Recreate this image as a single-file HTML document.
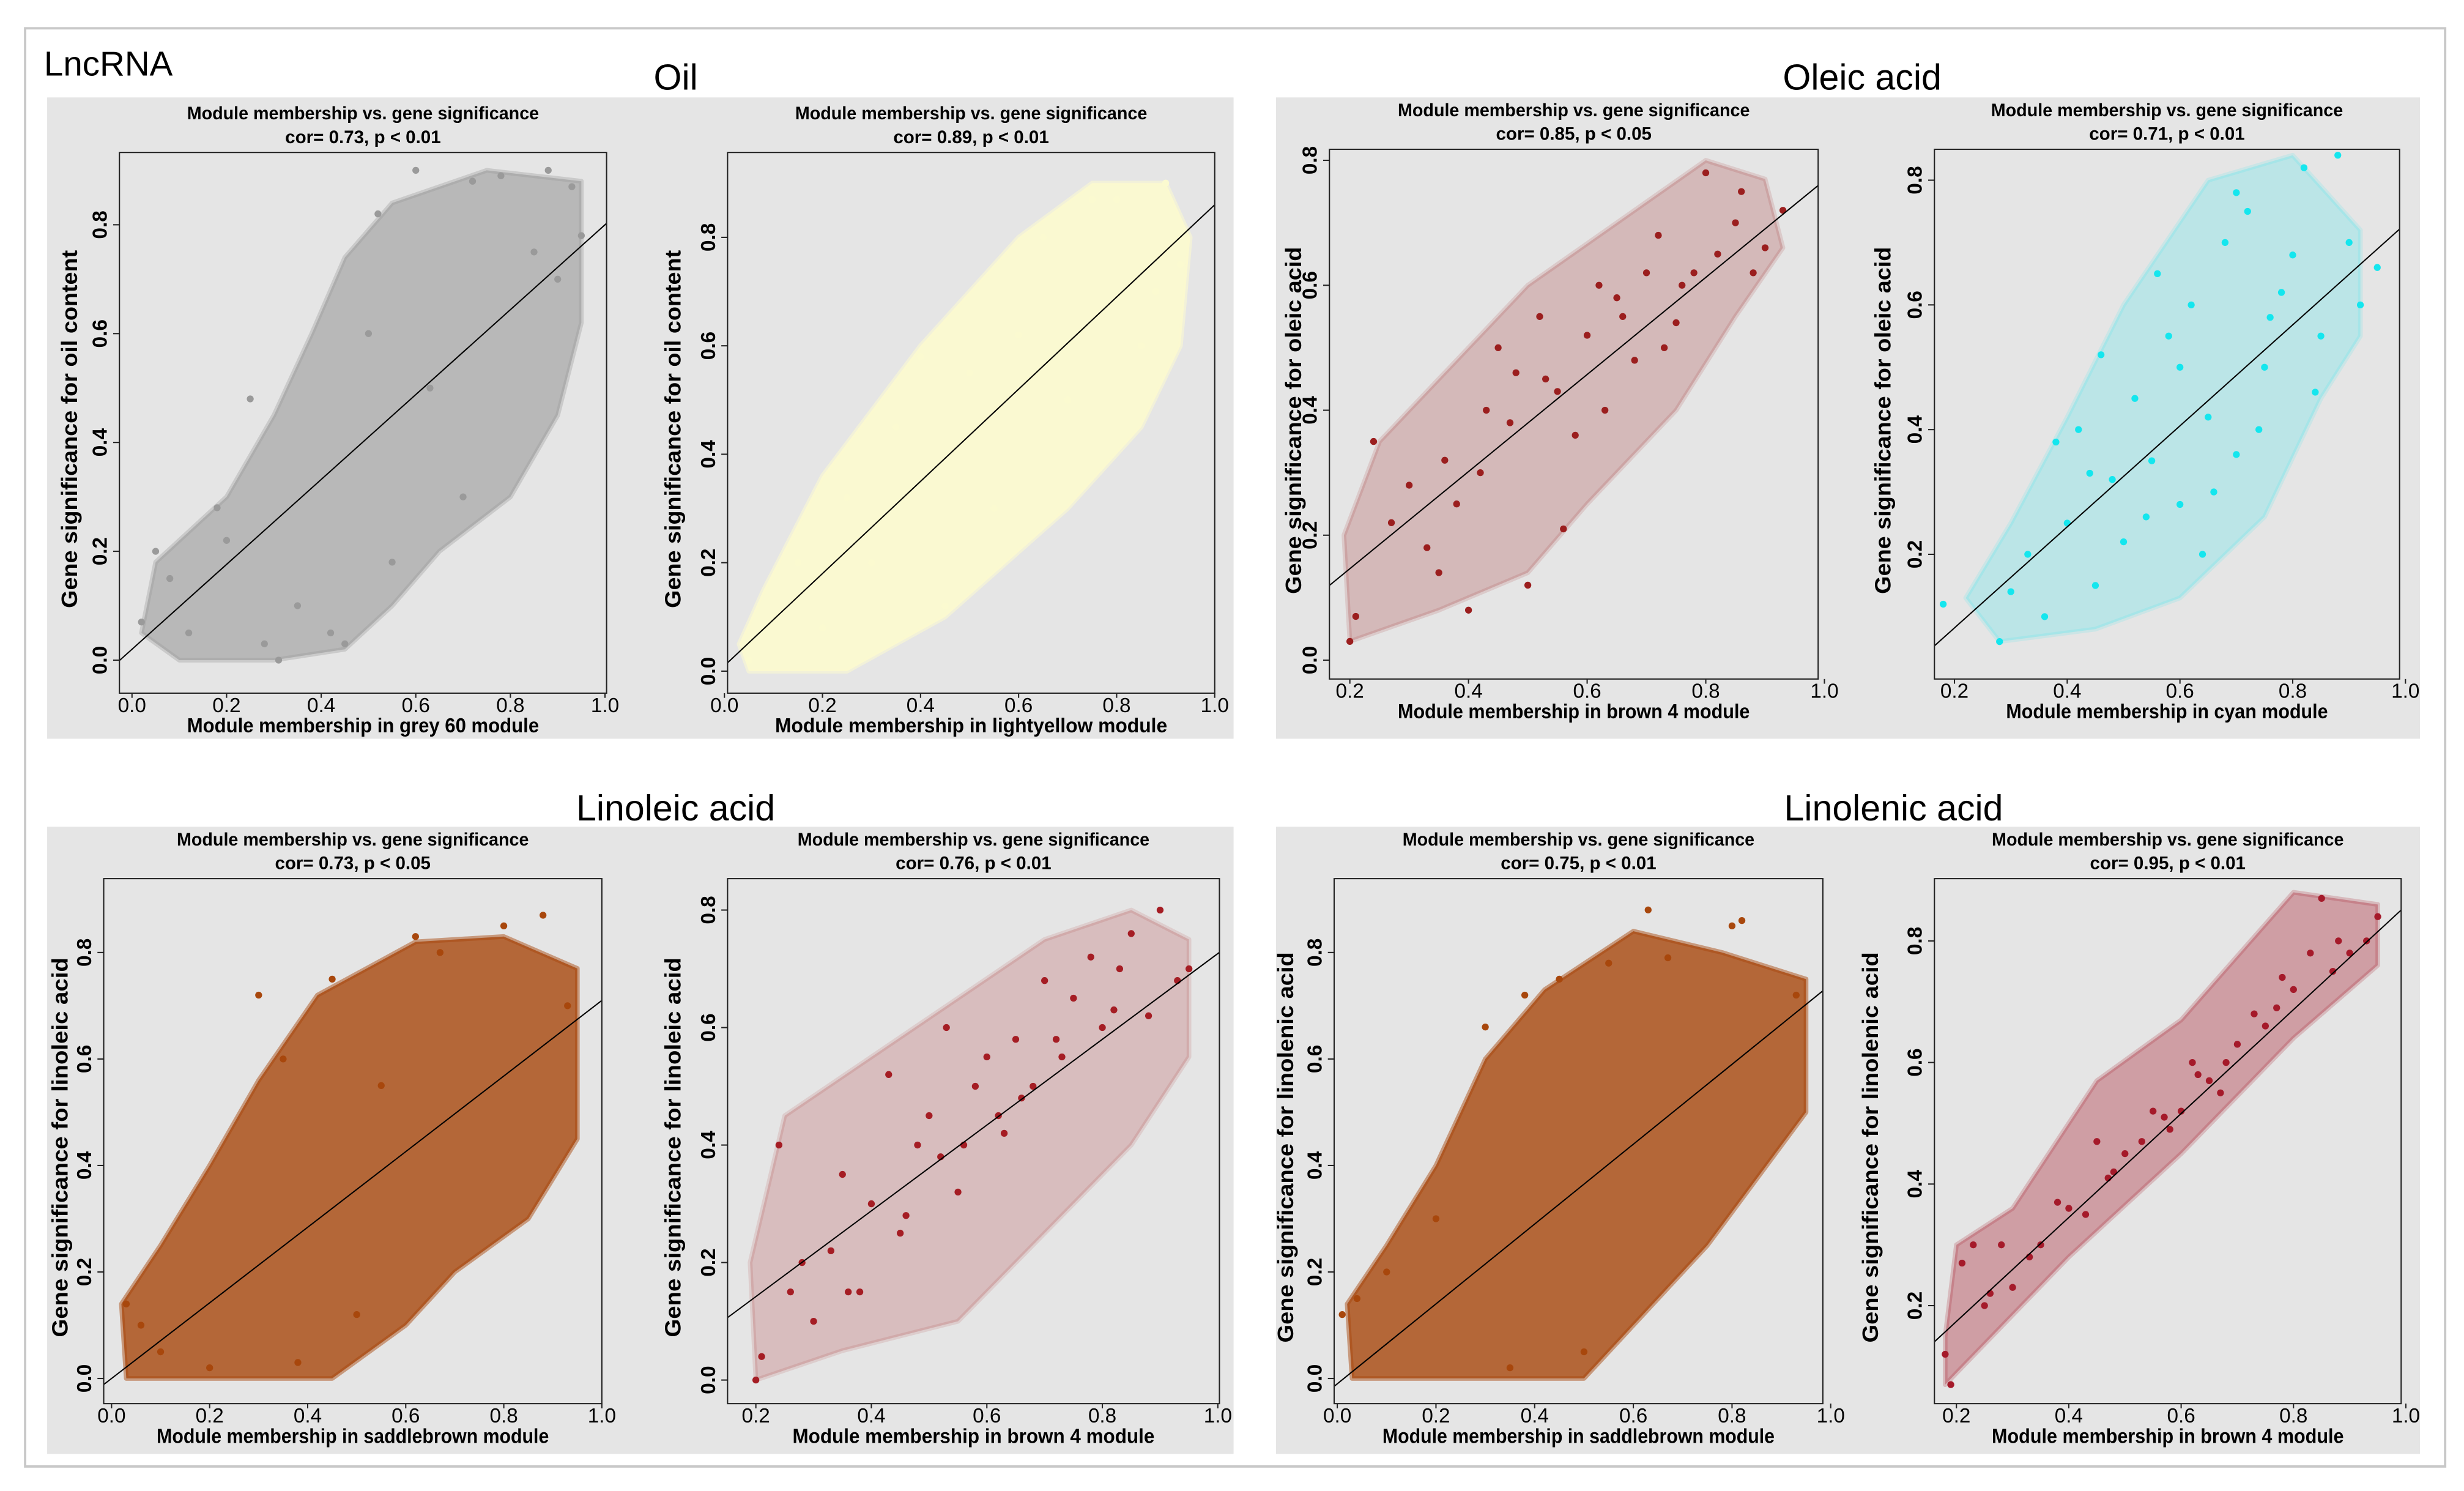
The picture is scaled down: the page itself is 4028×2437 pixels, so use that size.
<!DOCTYPE html>
<html><head><meta charset="utf-8"><style>
html,body{margin:0;padding:0;background:#fff;}
svg{display:block;}
text{font-family:"Liberation Sans",sans-serif;}
</style></head><body>
<svg id="fig" width="4028" height="2437" viewBox="0 0 1568 948.6" preserveAspectRatio="none" xmlns="http://www.w3.org/2000/svg">
<rect x="0" y="0" width="1568" height="948.6" fill="#fff"/>
<rect x="16" y="18" width="1540" height="915" fill="none" stroke="#c8c8c8" stroke-width="1.5"/>
<rect x="30" y="62" width="755" height="408" fill="#e5e5e5"/>
<rect x="812" y="62" width="728" height="408" fill="#e5e5e5"/>
<rect x="30" y="526" width="755" height="399" fill="#e5e5e5"/>
<rect x="812" y="526" width="728" height="399" fill="#e5e5e5"/>
<text x="28" y="48" font-size="22">LncRNA</text>
<text x="430" y="57" font-size="23" text-anchor="middle">Oil</text>
<text x="1185" y="57" font-size="23" text-anchor="middle">Oleic acid</text>
<text x="430" y="522" font-size="23" text-anchor="middle">Linoleic acid</text>
<text x="1205" y="522" font-size="23" text-anchor="middle">Linolenic acid</text>
<g id="plots"></g>
</svg>
<script>
// ---- data (values in data units) ----
const corLabels = ["cor= 0.73, p < 0.01","cor= 0.89, p < 0.01","cor= 0.85, p < 0.05","cor= 0.71, p < 0.01","cor= 0.73, p < 0.05","cor= 0.76, p < 0.01","cor= 0.75, p < 0.01","cor= 0.95, p < 0.01"];
const xLabels = ["Module membership in grey 60 module","Module membership in lightyellow module","Module membership in brown 4 module","Module membership in cyan module","Module membership in saddlebrown module","Module membership in brown 4  module","Module membership in saddlebrown module","Module membership in brown 4 module"];
const yLabels = ["Gene significance for oil content","Gene significance for oil content","Gene significance for oleic acid","Gene significance for oleic acid","Gene significance for linoleic acid","Gene significance for linoleic acid","Gene significance for linolenic acid","Gene significance for linolenic acid"];
const xTicks = [[0,0.2,0.4,0.6,0.8,1.0],[0,0.2,0.4,0.6,0.8,1.0],[0.2,0.4,0.6,0.8,1.0],[0.2,0.4,0.6,0.8,1.0],[0,0.2,0.4,0.6,0.8,1.0],[0.2,0.4,0.6,0.8,1.0],[0,0.2,0.4,0.6,0.8,1.0],[0.2,0.4,0.6,0.8,1.0]];
const yTicks = [[0,0.2,0.4,0.6,0.8],[0,0.2,0.4,0.6,0.8],[0,0.2,0.4,0.6,0.8],[0.2,0.4,0.6,0.8],[0,0.2,0.4,0.6,0.8],[0,0.2,0.4,0.6,0.8],[0,0.2,0.4,0.6,0.8],[0.2,0.4,0.6,0.8]];
const fitSlope = [0.78,0.85,0.777,0.81,0.71,0.73,0.75,0.855];
const fitIntercept = [0.02,0.01,-0.009,-0.08,0.0,-0.004,-0.01,0.003];
const dotColors = ["#9a9a9a","#fbfad0","#9b1e1e","#14e6ee","#a8470c","#a51d24","#a8470c","#a51a2a"];
const cloudOpacity = [0.6,0.95,0.22,0.2,0.8,0.2,0.8,0.35];
const clouds = [
 [[0.1,0.0],[0.3,0.0],[0.45,0.02],[0.55,0.1],[0.65,0.2],[0.8,0.3],[0.9,0.45],[0.95,0.62],[0.95,0.88],[0.75,0.9],[0.55,0.84],[0.45,0.74],[0.38,0.6],[0.3,0.45],[0.2,0.3],[0.05,0.18],[0.02,0.05]],
 [[0.05,0.0],[0.25,0.0],[0.45,0.1],[0.7,0.3],[0.85,0.45],[0.93,0.6],[0.95,0.8],[0.9,0.9],[0.75,0.9],[0.6,0.8],[0.4,0.6],[0.2,0.36],[0.08,0.15],[0.03,0.05]],
 [[0.2,0.03],[0.35,0.08],[0.5,0.14],[0.6,0.25],[0.75,0.4],[0.85,0.55],[0.93,0.66],[0.9,0.77],[0.8,0.8],[0.65,0.7],[0.5,0.6],[0.35,0.45],[0.25,0.35],[0.19,0.2]],
 [[0.28,0.06],[0.45,0.08],[0.6,0.13],[0.75,0.26],[0.85,0.45],[0.92,0.55],[0.92,0.72],[0.8,0.84],[0.65,0.8],[0.5,0.6],[0.4,0.42],[0.3,0.25],[0.22,0.13]],
 [[0.03,0.0],[0.45,0.0],[0.6,0.1],[0.7,0.2],[0.85,0.3],[0.95,0.45],[0.95,0.77],[0.8,0.83],[0.62,0.82],[0.42,0.72],[0.3,0.56],[0.2,0.4],[0.1,0.25],[0.02,0.14]],
 [[0.2,0.0],[0.35,0.05],[0.55,0.1],[0.7,0.25],[0.85,0.4],[0.95,0.55],[0.95,0.75],[0.85,0.8],[0.7,0.75],[0.55,0.65],[0.4,0.55],[0.25,0.45],[0.19,0.2]],
 [[0.03,0.0],[0.5,0.0],[0.6,0.1],[0.75,0.25],[0.95,0.5],[0.95,0.75],[0.78,0.8],[0.6,0.84],[0.42,0.73],[0.3,0.6],[0.2,0.4],[0.1,0.25],[0.02,0.14]],
 [[0.18,0.07],[0.4,0.28],[0.6,0.45],[0.8,0.64],[0.95,0.76],[0.95,0.86],[0.8,0.88],[0.6,0.67],[0.45,0.57],[0.3,0.36],[0.2,0.3],[0.18,0.15]]
];
const pointsX = [
 [0.02,0.05,0.08,0.12,0.18,0.25,0.31,0.45,0.52,0.6,0.72,0.78,0.88,0.93,0.95,0.7,0.55,0.42,0.35,0.28,0.63,0.85,0.5,0.2,0.9],
 [0.05,0.1,0.15,0.25,0.35,0.45,0.55,0.6,0.7,0.8,0.85,0.9,0.93,0.75,0.65,0.5,0.4,0.3,0.2,0.88],
 [0.2,0.21,0.24,0.27,0.3,0.33,0.36,0.4,0.43,0.47,0.5,0.53,0.56,0.6,0.63,0.66,0.7,0.73,0.76,0.8,0.82,0.85,0.88,0.9,0.93,0.38,0.45,0.58,0.68,0.78,0.52,0.62,0.72,0.86,0.55,0.42,0.65,0.75,0.35,0.48],
 [0.18,0.28,0.3,0.33,0.36,0.4,0.42,0.45,0.48,0.5,0.52,0.55,0.58,0.6,0.62,0.65,0.68,0.7,0.72,0.75,0.78,0.8,0.82,0.85,0.88,0.9,0.92,0.95,0.6,0.66,0.74,0.56,0.46,0.7,0.84,0.76,0.64,0.54,0.44,0.38],
 [0.03,0.06,0.1,0.2,0.3,0.38,0.45,0.55,0.62,0.67,0.8,0.88,0.93,0.5,0.35],
 [0.2,0.21,0.24,0.26,0.28,0.3,0.33,0.35,0.38,0.4,0.43,0.45,0.48,0.5,0.53,0.55,0.58,0.6,0.63,0.65,0.68,0.7,0.73,0.75,0.78,0.8,0.83,0.85,0.88,0.9,0.93,0.95,0.52,0.62,0.72,0.82,0.66,0.46,0.56,0.36],
 [0.01,0.04,0.1,0.2,0.3,0.38,0.45,0.55,0.63,0.67,0.8,0.82,0.93,0.5,0.35],
 [0.18,0.19,0.21,0.23,0.25,0.26,0.28,0.3,0.33,0.35,0.38,0.4,0.43,0.45,0.48,0.5,0.53,0.55,0.58,0.6,0.63,0.65,0.68,0.7,0.73,0.75,0.78,0.8,0.83,0.85,0.88,0.9,0.93,0.95,0.47,0.57,0.67,0.77,0.87,0.62]
];
const pointsY = [
 [0.07,0.2,0.15,0.05,0.28,0.48,0.0,0.03,0.82,0.9,0.88,0.89,0.9,0.87,0.78,0.3,0.18,0.05,0.1,0.03,0.5,0.75,0.6,0.22,0.7],
 [0.02,0.1,0.2,0.32,0.45,0.12,0.3,0.62,0.5,0.87,0.6,0.9,0.75,0.87,0.8,0.55,0.58,0.2,0.08,0.7],
 [0.03,0.07,0.35,0.22,0.28,0.18,0.32,0.08,0.4,0.38,0.12,0.45,0.21,0.52,0.4,0.55,0.62,0.5,0.6,0.78,0.65,0.7,0.62,0.66,0.72,0.25,0.5,0.36,0.48,0.62,0.55,0.6,0.68,0.75,0.43,0.3,0.58,0.54,0.14,0.46],
 [0.12,0.06,0.14,0.2,0.1,0.25,0.4,0.15,0.32,0.22,0.45,0.35,0.55,0.28,0.6,0.42,0.7,0.36,0.75,0.5,0.62,0.68,0.82,0.55,0.84,0.7,0.6,0.66,0.5,0.3,0.4,0.65,0.52,0.78,0.46,0.58,0.2,0.26,0.33,0.38],
 [0.14,0.1,0.05,0.02,0.72,0.03,0.75,0.55,0.83,0.8,0.85,0.87,0.7,0.12,0.6],
 [0.0,0.04,0.4,0.15,0.2,0.1,0.22,0.35,0.15,0.3,0.52,0.25,0.4,0.45,0.6,0.32,0.5,0.55,0.42,0.58,0.5,0.68,0.55,0.65,0.72,0.6,0.7,0.76,0.62,0.8,0.68,0.7,0.38,0.45,0.58,0.63,0.48,0.28,0.4,0.15],
 [0.12,0.15,0.2,0.3,0.66,0.72,0.75,0.78,0.88,0.79,0.85,0.86,0.72,0.05,0.02],
 [0.12,0.07,0.27,0.3,0.2,0.22,0.3,0.23,0.28,0.3,0.37,0.36,0.35,0.47,0.42,0.45,0.47,0.52,0.49,0.52,0.58,0.57,0.6,0.63,0.68,0.66,0.74,0.72,0.78,0.87,0.8,0.78,0.8,0.84,0.41,0.51,0.55,0.69,0.75,0.6]
];
// ---- layout (thumbnail units) ----
const boxes = [[76,97,386,441],[463,97,773,441],[846,95,1157,432],[1231,95,1527,432],[66,559,383,893],[463,559,776,893],[849,559,1160,893],[1231,559,1528,893]];
const xZero = [84,461,783.5,1172,71,407.5,851,1173.5];
const xUnit = [301,312,377.5,358.75,312,367.5,314,357.5];
const yZero = [420,427,420,432,877,878,877,908];
const yUnit = [346.25,345,397.5,396.7,338.75,373.75,338.75,386.7];
const yLabX = [44,428,823,1198,38,428,818,1190];
const NS = "http://www.w3.org/2000/svg";
const root = document.getElementById('plots');
function mk(tag, attrs, parent){const e=document.createElementNS(NS,tag);for(const k in attrs)e.setAttribute(k,attrs[k]);parent.appendChild(e);return e;}
for(let i=0;i<8;i++){
  const [x0,y0,x1,y1]=boxes[i];
  const sx=v=>xZero[i]+v*xUnit[i];
  const sy=v=>yZero[i]-v*yUnit[i];
  const g=mk('g',{},root);
  
  
  const cx=(x0+x1)/2;
  const t1=mk('text',{x:cx,y:y0-21,'font-size':11.5,'font-weight':'bold','text-anchor':'middle',textLength:224,lengthAdjust:'spacingAndGlyphs'},g);
  t1.textContent='Module membership vs. gene significance';
  
  
  const t2=mk('text',{x:cx,y:y0-6,'font-size':11.5,'font-weight':'bold','text-anchor':'middle'},g);
  t2.textContent=corLabels[i];
  
  
  const clip='clip'+i;
  const cp=mk('clipPath',{id:clip},g); mk('rect',{x:x0,y:y0,width:x1-x0,height:y1-y0},cp);
  const pg=mk('g',{'clip-path':'url(#'+clip+')'},g);
  const poly=mk('polygon',{points:clouds[i].map(p=>sx(p[0])+','+sy(p[1])).join(' '),fill:dotColors[i],'fill-opacity':cloudOpacity[i],stroke:dotColors[i],'stroke-width':3,'stroke-linejoin':'round','stroke-opacity':cloudOpacity[i]*0.6},pg);
  
  
  for(let k=0;k<pointsX[i].length;k++){
    const c=mk('circle',{cx:sx(pointsX[i][k]),cy:sy(pointsY[i][k]),r:2.2,fill:dotColors[i]},pg);
    
    
  }
  const vx0=(x0-xZero[i])/xUnit[i], vx1=(x1-xZero[i])/xUnit[i];
  const ln=mk('line',{x1:sx(vx0),y1:sy(fitSlope[i]*vx0+fitIntercept[i]),x2:sx(vx1),y2:sy(fitSlope[i]*vx1+fitIntercept[i]),stroke:'#000','stroke-width':0.8},pg);
  
  
  const bx=mk('rect',{x:x0,y:y0,width:x1-x0,height:y1-y0,fill:'none',stroke:'#222','stroke-width':0.8},g);
  
  
  xTicks[i].forEach(v=>{
    mk('line',{x1:sx(v),y1:y1,x2:sx(v),y2:y1+3,stroke:'#222','stroke-width':0.8},g);
    const t=mk('text',{x:sx(v),y:y1+12,'font-size':13,'text-anchor':'middle',textLength:18,lengthAdjust:'spacingAndGlyphs'},g);
    t.textContent=v.toFixed(1);
    
    
  });
  yTicks[i].forEach(v=>{
    mk('line',{x1:x0-4,y1:sy(v),x2:x0,y2:sy(v),stroke:'#222','stroke-width':0.8},g);
    const t=mk('text',{x:0,y:0,'font-size':13,'font-weight':'bold','text-anchor':'middle',transform:'translate('+(x0-8)+','+sy(v)+') rotate(-90)'},g);
    t.textContent=v.toFixed(1);
    
    
  });
  const xl=mk('text',{x:cx,y:y1+25,'font-size':13,'font-weight':'bold','text-anchor':'middle',textLength:xLabels[i].length*6.4,lengthAdjust:'spacingAndGlyphs'},g);
  xl.textContent=xLabels[i];
  
  
  const yl=mk('text',{x:0,y:0,'font-size':14,'font-weight':'bold','text-anchor':'middle',textLength:yLabels[i].length*6.9,lengthAdjust:'spacingAndGlyphs',transform:'translate('+(yLabX[i]+5)+','+((y0+y1)/2+4)+') rotate(-90)'},g);
  yl.textContent=yLabels[i];
  
  
}
</script>
</body></html>
